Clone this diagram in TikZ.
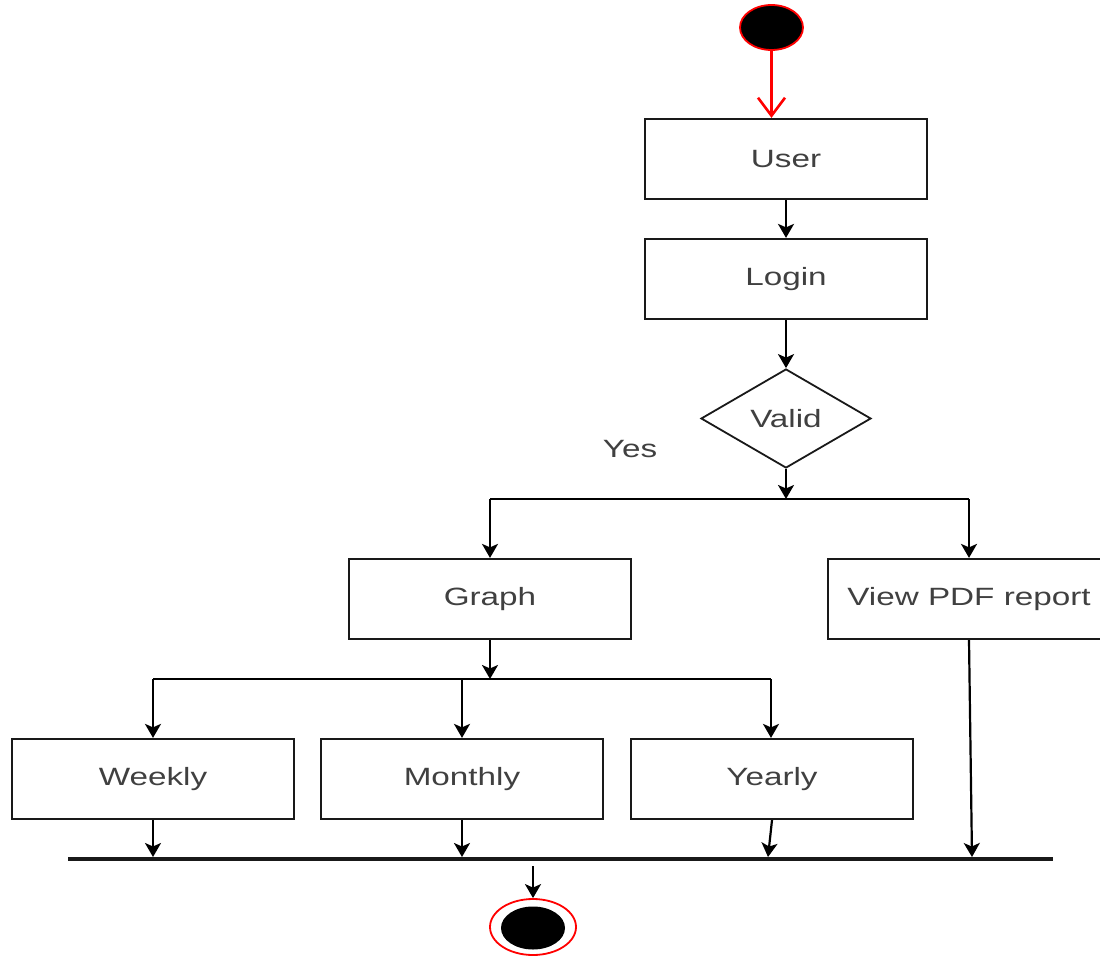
\documentclass[tikz,border=0pt]{standalone}
\usepackage{graphicx}
\usepackage{fontspec}
\setmainfont{Liberation Sans}
\usetikzlibrary{shapes.geometric,arrows.meta}
\newcommand{\sx}[1]{\scalebox{1.33}[1]{#1}}
\begin{document}
\begin{tikzpicture}[x=1pt,y=-1pt,
  lbl/.style={text=black!75,font=\fontsize{25}{30}\selectfont},
  box/.style={lbl,draw=black!90,line width=2.2pt,minimum width=282pt,minimum height=80pt,inner sep=0pt},
  arr/.style={draw=black,line width=2.2pt,-{Stealth[length=14pt,width=16pt,inset=3.5pt]}},
  wire/.style={draw=black,line width=2.2pt},
  barline/.style={draw=black!90,line width=3.6pt}]
\useasboundingbox (0,0) rectangle (1100,960);
\clip (0,0) rectangle (1100,960);
% start
\node[ellipse,draw=red,line width=1.8pt,fill=black,minimum width=63pt,minimum height=45pt,inner sep=0pt] (start) at (771.5,27.5) {};
\node[box] (user) at (786,159) {\sx{User}};
\node[box] (login) at (786,279) {\sx{Login}};
\node[diamond,lbl,draw=black!90,line width=1.8pt,minimum width=170pt,minimum height=99pt,inner sep=0pt] (valid) at (786,418.5) {\sx{Valid}};
\node[lbl] (yes) at (630,449) {\sx{Yes}};
\node[box] (graph) at (490,599) {\sx{Graph}};
\node[box] (pdf) at (969,599) {\sx{View PDF report}};
\node[box] (weekly) at (153,779) {\sx{Weekly}};
\node[box] (monthly) at (462,779) {\sx{Monthly}};
\node[box] (yearly) at (772,779) {\sx{Yearly}};
% end
\node[ellipse,draw=red,line width=1.8pt,minimum width=86pt,minimum height=56pt,inner sep=0pt] (endo) at (533,927) {};
\node[ellipse,fill=black,minimum width=64pt,minimum height=43pt,inner sep=0pt] (endi) at (533,928) {};
% coordinates
\coordinate (s1) at (786,499);
\coordinate (s1l) at (490,499);
\coordinate (s1r) at (969,499);
\coordinate (s2) at (490,679);
\coordinate (s2l) at (153,679);
\coordinate (s2m) at (462,679);
\coordinate (s2r) at (771,679);
\coordinate (barL) at (68,859);
\coordinate (barR) at (1053,859);
\coordinate (bw) at (153,857);
\coordinate (bm) at (462,857);
\coordinate (by) at (768,857);
\coordinate (bp) at (972,857);
\coordinate (bo) at (533,866);
% connectors
\draw[draw=red,line width=2.6pt,-{Straight Barb[length=18pt,width=27pt]}] (start.south) -- (user.north -| start.south);
\draw[arr] (user) -- (login);
\draw[arr] (login) -- (valid);
\draw[arr] (valid.south) -- (s1);
\draw[wire] (s1l) -- (s1r);
\draw[arr] (s1l) -- (graph.north);
\draw[arr] (s1r) -- (pdf.north);
\draw[arr] (graph.south) -- (s2);
\draw[wire] (s2l) -- (s2r);
\draw[arr] (s2l) -- (weekly.north);
\draw[arr] (s2m) -- (monthly.north);
\draw[arr] (s2r) -- (yearly.north -| s2r);
\draw[arr] (weekly.south) -- (bw);
\draw[arr] (monthly.south) -- (bm);
\draw[arr] (yearly.south) -- (by);
\draw[arr] (pdf.south) -- (bp);
\draw[barline] (barL) -- (barR);
\draw[arr] (bo) -- (endo.north);
\end{tikzpicture}
\end{document}
